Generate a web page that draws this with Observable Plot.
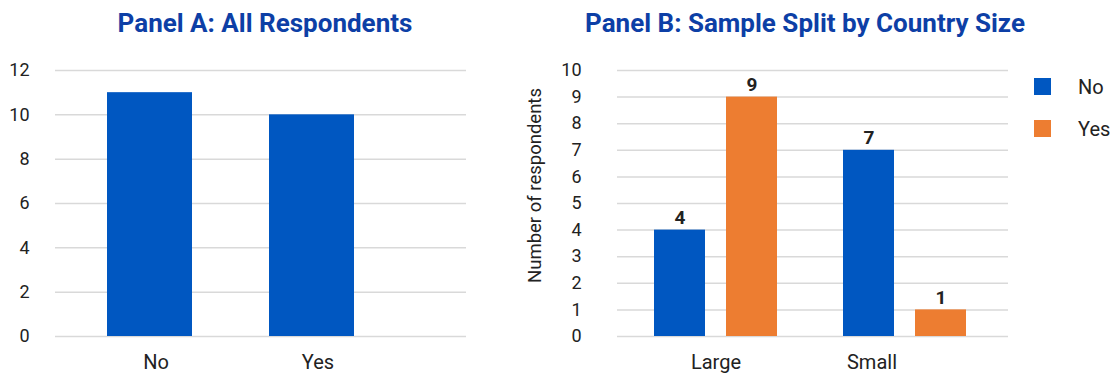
<!DOCTYPE html>
<html>
<head>
<meta charset="utf-8">
<script src="https://cdn.jsdelivr.net/npm/d3@7"></script>
<script src="https://cdn.jsdelivr.net/npm/@observablehq/plot@0.6"></script>
<style>
  body { margin: 0; background: #fff; font-family: Roboto, sans-serif; }
  #wrap { position: relative; width: 1117px; height: 373px; overflow: hidden; }
  .title { position: absolute; top: 10px; font-weight: 700; font-size: 26px; line-height: 26px;
           color: #0d3fa6; text-align: center; white-space: nowrap; }
  .panel { position: absolute; top: 40px; }
  .legend { position: absolute; left: 1034px; top: 78px; font-size: 20px; color: #222; }
  .legend .item { display: flex; align-items: center; height: 17px; margin-bottom: 25px; }
  .legend .sw { width: 17px; height: 17px; margin-right: 27px; }
</style>
</head>
<body>
<div id="wrap">
  <div class="title" id="titleA" style="left:0;width:530px;"></div>
  <div class="title" id="titleB" style="left:500px;width:610px;"></div>
  <div class="panel" id="panelA" style="left:0;"></div>
  <div class="panel" id="panelB" style="left:500px;"></div>
  <div class="legend" id="legend"></div>
</div>
<script>
// Panel A: all respondents
const answers = ["No", "Yes"];
const allCounts = [11, 10];
const yTicksA = [0, 2, 4, 6, 8, 10, 12];

// Panel B: split by country size
const sizes = ["Large", "Small"];
const noBySize = [4, 7];
const yesBySize = [9, 1];
const yTicksB = [0, 1, 2, 3, 4, 5, 6, 7, 8, 9, 10];

const seriesNames = ["No", "Yes"];
const seriesColors = ["#0057c1", "#ed7d31"];

const titleA = "Panel A: All Respondents";
const titleB = "Panel B: Sample Split by Country Size";
const yLabelB = "Number of respondents";

document.getElementById("titleA").textContent = titleA;
document.getElementById("titleB").textContent = titleB;

const gridStyle = { stroke: "#d9d9d9", strokeWidth: 1.5 };
const baseStyle = { fontFamily: "Roboto, sans-serif", fontSize: "18px", color: "#222", background: "transparent", overflow: "visible" };

// ---- Panel A ----
const dataA = answers.map((a, i) => ({ answer: a, count: allCounts[i] }));

const plotA = Plot.plot({
  width: 500, height: 333,
  marginLeft: 55, marginRight: 34, marginTop: 30, marginBottom: 37,
  style: baseStyle,
  x: { type: "band", domain: answers, range: [30, 431], paddingInner: 0.4753, paddingOuter: 0.4753, round: false },
  y: { domain: [0, 12] },
  marks: [
    Plot.ruleY(yTicksA, gridStyle),
    Plot.barY(dataA, { x: "answer", y: "count", fill: seriesColors[0] }),
    Plot.axisY(yTicksA, { tickSize: 0, tickPadding: 26, label: null }),
    Plot.axisX(answers, { tickSize: 0, tickPadding: 18, label: null, fontSize: 20, dx: 6 })
  ]
});
document.getElementById("panelA").append(plotA);

// ---- Panel B ----
const dataB = sizes.flatMap((s, i) => [
  { size: s, answer: seriesNames[0], count: noBySize[i] },
  { size: s, answer: seriesNames[1], count: yesBySize[i] }
]);
const noData = dataB.filter(d => d.answer === seriesNames[0]);
const yesData = dataB.filter(d => d.answer === seriesNames[1]);
const valueStyle = { fontWeight: 700, fontSize: 19, fill: "#222", dy: -12 };

const plotB = Plot.plot({
  width: 617, height: 333,
  marginLeft: 117, marginRight: 109, marginTop: 30, marginBottom: 37,
  style: baseStyle,
  x: { type: "band", domain: sizes, range: [88, 532], paddingInner: 0.3492, paddingOuter: 0.3492, round: false },
  y: { domain: [0, 10] },
  color: { domain: seriesNames, range: seriesColors },
  marks: [
    Plot.ruleY(yTicksB, gridStyle),
    Plot.barY(noData, { x: "size", y: "count", fill: "answer", insetRight: 72 }),
    Plot.barY(yesData, { x: "size", y: "count", fill: "answer", insetLeft: 72 }),
    Plot.text(noData, { x: "size", y: "count", text: d => String(d.count), dx: -36, ...valueStyle }),
    Plot.text(yesData, { x: "size", y: "count", text: d => String(d.count), dx: 36, ...valueStyle }),
    Plot.axisY(yTicksB, { tickSize: 0, tickPadding: 36, label: null }),
    Plot.axisX([sizes[0]], { tickSize: 0, tickPadding: 18, label: null, fontSize: 20 }),
    Plot.axisX([sizes[1]], { tickSize: 0, tickPadding: 18, label: null, fontSize: 20, dx: -33 }),
    Plot.text([yLabelB], { frameAnchor: "left", textAnchor: "middle", rotate: -90, dx: -82.5, dy: -18, fontSize: 18.5, fill: "#222" })
  ]
});
document.getElementById("panelB").append(plotB);

// ---- Legend ----
const legend = document.getElementById("legend");
seriesNames.forEach((name, i) => {
  const item = document.createElement("div");
  item.className = "item";
  const sw = document.createElement("div");
  sw.className = "sw";
  sw.style.background = seriesColors[i];
  const label = document.createElement("span");
  label.textContent = name;
  item.append(sw, label);
  legend.append(item);
});
</script>
</body>
</html>
